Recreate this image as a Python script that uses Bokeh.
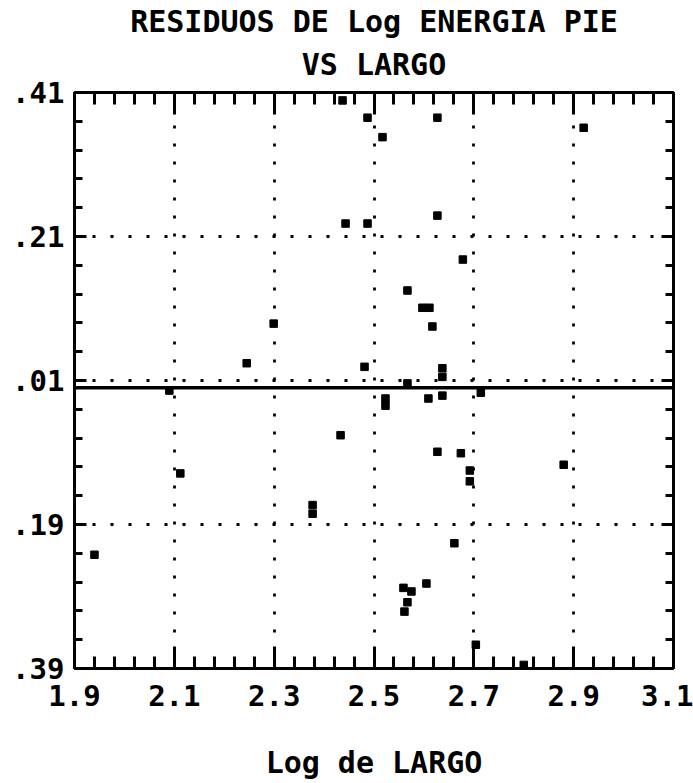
import numpy as np
from bokeh.plotting import figure
from bokeh.models import (Range1d, FixedTicker, LinearAxis, Span, CustomJSTickFormatter,
                          ColumnDataSource, Grid, Title)
from bokeh.embed import file_html
from bokeh.resources import INLINE

# ---- data ----
log_largo = [1.94, 2.112, 2.090, 2.245, 2.299, 2.377, 2.377, 2.437, 2.443, 2.433,
             2.487, 2.487, 2.481, 2.517, 2.523, 2.523, 2.567, 2.567, 2.597, 2.611,
             2.617, 2.609, 2.627, 2.627, 2.637, 2.637, 2.637, 2.678, 2.714, 2.627,
             2.674, 2.692, 2.692, 2.880, 2.920, 2.661, 2.605, 2.559, 2.575, 2.567,
             2.561, 2.704, 2.800]
residuos = [-0.232, -0.119, -0.004, 0.034, 0.089, -0.163, -0.175, 0.399, 0.228, -0.066,
            0.375, 0.228, 0.029, 0.348, -0.015, -0.025, 0.006, 0.135, 0.111, 0.111,
            0.085, -0.015, 0.375, 0.239, 0.027, 0.015, -0.011, 0.178, -0.007, -0.089,
            -0.091, -0.115, -0.130, -0.107, 0.361, -0.216, -0.272, -0.278, -0.283, -0.298,
            -0.311, -0.357, -0.385]

x_ticks = [1.9, 2.1, 2.3, 2.5, 2.7, 2.9, 3.1]
x_tick_labels = ["1.9", "2.1", "2.3", "2.5", "2.7", "2.9", "3.1"]
y_ticks = [0.41, 0.21, 0.01, -0.19, -0.39]
y_tick_labels = [".41", ".21", ".01", ".19", ".39"]

title_line1 = "RESIDUOS DE Log ENERGIA PIE"
title_line2 = "VS LARGO"
x_label = "Log de LARGO"

FONT = "DejaVu Sans Mono"

x_minor = [round(v, 2) for v in np.arange(1.9, 3.1001, 0.04)]
y_minor = [round(v, 2) for v in np.arange(-0.39, 0.4101, 0.04)]

p = figure(width=693, height=783, output_backend="svg", toolbar_location=None,
           title=None,
           x_range=Range1d(1.9, 3.1), y_range=Range1d(-0.39, 0.41),
           min_border_left=74, min_border_right=20, min_border_top=92, min_border_bottom=115,
           x_axis_type=None, y_axis_type=None)
p.outline_line_color = None
p.background_fill_color = "white"
p.border_fill_color = "white"

xt = FixedTicker(ticks=x_ticks, minor_ticks=x_minor)
yt = FixedTicker(ticks=y_ticks, minor_ticks=y_minor)
blank = CustomJSTickFormatter(code="return ''")

def style(ax, is_x):
    ax.axis_line_width = 3
    ax.axis_line_color = "black"
    ax.major_tick_line_width = 3
    ax.minor_tick_line_width = 3
    ax.major_tick_out = 0
    ax.minor_tick_out = 0
    if is_x:
        ax.major_tick_in = 22
        ax.minor_tick_in = 12
    else:
        ax.major_tick_in = 12
        ax.minor_tick_in = 8
    ax.major_label_text_font = FONT
    ax.major_label_text_font_style = "bold"
    ax.major_label_text_font_size = "29px"
    ax.major_label_text_color = "black"

xb = LinearAxis(ticker=xt, major_label_overrides=dict(zip(x_ticks, x_tick_labels)))
style(xb, True)
xb.major_label_standoff = 16
xb.axis_label = x_label
xb.axis_label_text_font = FONT
xb.axis_label_text_font_style = "bold"
xb.axis_label_text_font_size = "30px"
xb.axis_label_text_color = "black"
xb.axis_label_standoff = 36
p.add_layout(xb, "below")

xa = LinearAxis(ticker=xt, formatter=blank)
style(xa, True)
xa.major_label_standoff = 0
p.add_layout(xa, "above")

yl = LinearAxis(ticker=yt, major_label_overrides=dict(zip(y_ticks, y_tick_labels)))
style(yl, False)
yl.major_label_standoff = 10
yl.major_label_orientation = "horizontal"
p.add_layout(yl, "left")

yr = LinearAxis(ticker=yt, formatter=blank)
style(yr, False)
yr.major_label_standoff = 0
p.add_layout(yr, "right")

# two-line title, each line centred
for txt, so in ((title_line2, 21), (title_line1, -8)):
    t = Title(text=txt, align="center", text_font=FONT, text_font_style="bold",
              text_font_size="30px", text_color="black", standoff=so, offset=0)
    p.add_layout(t, "above")

# dotted grid
for dim, tk in ((0, xt), (1, yt)):
    g = Grid(dimension=dim, ticker=tk, grid_line_color="black", grid_line_width=2.8,
             grid_line_dash="3 15")
    p.add_layout(g)

# zero residual line
p.add_layout(Span(location=0, dimension="width", line_color="black", line_width=3.5))

src = ColumnDataSource(dict(x=log_largo, y=residuos))
p.scatter("x", "y", source=src, marker="square", size=7.5, fill_color="black",
          line_color="black", line_width=1)

open("out.html", "w").write(file_html(p, INLINE))
